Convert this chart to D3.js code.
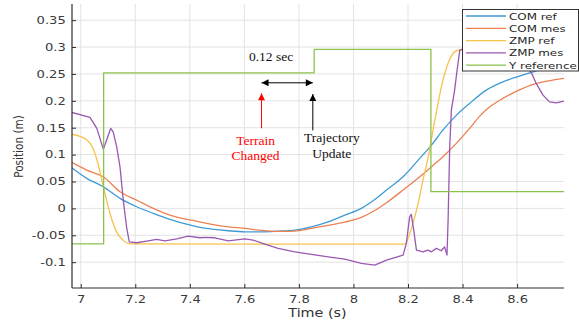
<!DOCTYPE html>
<html lang="en">
<head>
    <meta charset="UTF-8">
    <title>COM / ZMP tracking</title>
    <script src="https://cdnjs.cloudflare.com/ajax/libs/d3/7.8.5/d3.min.js"></script>
    <style>
        body { margin: 0; background: #fff; }
        svg { display: block; }
        .tick-label { font-family: 'DejaVu Sans', sans-serif; font-size: 10.5px; fill: #3a3a3a; }
        .axis-title { font-family: 'DejaVu Sans', sans-serif; fill: #333; }
        .legend-text { font-family: 'DejaVu Sans', sans-serif; font-size: 9.5px; fill: #262626; }
        .note { font-family: 'Liberation Serif', 'Times New Roman', serif; font-size: 13.5px; }
    </style>
</head>
<body>
<svg id="chart" width="579" height="321"></svg>
<script>
    // ticks
    const xTicks = [7, 7.2, 7.4, 7.6, 7.8, 8, 8.2, 8.4, 8.6];
    const xTickLabels = ["7", "7.2", "7.4", "7.6", "7.8", "8", "8.2", "8.4", "8.6"];
    const yTicks = [0.35, 0.3, 0.25, 0.2, 0.15, 0.1, 0.05, 0, -0.05, -0.1];
    const yTickLabels = ["0.35", "0.3", "0.25", "0.2", "0.15", "0.1", "0.05", "0", "-0.05", "-0.1"];

    // series, [time, value]
    const comRef = [
        [6.967, 0.0755], [7.022, 0.0558], [7.083, 0.0401], [7.144, 0.0186], [7.205, 0.003],
        [7.266, -0.0093], [7.327, -0.0204], [7.388, -0.0292], [7.437, -0.0353], [7.48, -0.0385],
        [7.541, -0.0416], [7.602, -0.0435], [7.663, -0.0435], [7.724, -0.0422], [7.785, -0.0403],
        [7.846, -0.0342], [7.907, -0.0249], [7.968, -0.0125], [8.029, 0], [8.078, 0.0164],
        [8.121, 0.034], [8.182, 0.0587], [8.243, 0.0929], [8.286, 0.1177], [8.328, 0.1455],
        [8.377, 0.1729], [8.426, 0.1952], [8.487, 0.2199], [8.548, 0.2353], [8.609, 0.2459],
        [8.652, 0.2528], [8.71, 0.262], [8.772, 0.27]
    ];
    const comMes = [
        [6.967, 0.0855], [7.022, 0.0712], [7.083, 0.0587], [7.144, 0.0309], [7.205, 0.0154],
        [7.266, 0], [7.327, -0.0125], [7.388, -0.0204], [7.419, -0.023], [7.48, -0.0297],
        [7.541, -0.0342], [7.602, -0.0372], [7.663, -0.0409], [7.724, -0.0428], [7.785, -0.0422],
        [7.846, -0.0372], [7.907, -0.0316], [7.968, -0.0255], [8.029, -0.0167], [8.078, -0.004],
        [8.121, 0.0105], [8.182, 0.034], [8.243, 0.0587], [8.286, 0.0774], [8.328, 0.0959],
        [8.377, 0.1208], [8.426, 0.1487], [8.463, 0.1716], [8.5, 0.1888], [8.548, 0.2045],
        [8.609, 0.2205], [8.67, 0.2323], [8.731, 0.2385], [8.772, 0.2416]
    ];
    const zmpRef = [
        [6.967, 0.138], [6.997, 0.134], [7.023, 0.127], [7.045, 0.112], [7.063, 0.084],
        [7.082, 0.043], [7.107, -0.009], [7.133, -0.045], [7.155, -0.059], [7.181, -0.066],
        [8.188, -0.0665], [8.2, -0.056], [8.218, -0.028], [8.237, 0.009], [8.255, 0.053],
        [8.273, 0.093], [8.292, 0.146], [8.31, 0.195], [8.328, 0.238], [8.347, 0.27],
        [8.365, 0.288], [8.383, 0.294], [8.426, 0.2955], [8.772, 0.2955]
    ];
    const zmpMes = [
        [6.967, 0.1784], [7.034, 0.1691], [7.059, 0.1487], [7.083, 0.1097], [7.095, 0.127],
        [7.110, 0.1487], [7.119, 0.1424], [7.132, 0.1145], [7.144, 0.0773], [7.156, 0.0154],
        [7.168, -0.0342], [7.178, -0.0621], [7.205, -0.0639], [7.242, -0.0608], [7.278, -0.0576],
        [7.309, -0.0602], [7.352, -0.0565], [7.394, -0.0515], [7.437, -0.0546], [7.455, -0.0539],
        [7.492, -0.0546], [7.541, -0.0602], [7.602, -0.0565], [7.632, -0.0589], [7.675, -0.0664],
        [7.724, -0.0743], [7.785, -0.0807], [7.846, -0.0855], [7.907, -0.09], [7.968, -0.0942],
        [8.029, -0.1022], [8.078, -0.1054], [8.121, -0.0961], [8.182, -0.0868], [8.194, -0.0651],
        [8.206, -0.0156], [8.212, -0.0112], [8.221, -0.0403], [8.231, -0.0775], [8.255, -0.0807],
        [8.273, -0.0775], [8.286, -0.0807], [8.304, -0.0743], [8.322, -0.0788], [8.334, -0.0714],
        [8.343, -0.0868], [8.347, -0.0217], [8.353, 0.1145], [8.359, 0.1827], [8.371, 0.2199],
        [8.38, 0.2571], [8.39, 0.2943], [8.42, 0.30], [8.5, 0.298], [8.6, 0.28],
        [8.652, 0.2528], [8.67, 0.2323], [8.695, 0.2106], [8.719, 0.1981], [8.744, 0.1963],
        [8.772, 0.1994]
    ];
    const yReference = [
        [6.967, -0.066], [7.084, -0.066], [7.084, 0.252], [7.856, 0.252], [7.856, 0.2955],
        [8.284, 0.2955], [8.284, 0.031], [8.772, 0.031]
    ];

    const seriesNames = ["COM ref", "COM mes", "ZMP ref", "ZMP mes", "Y reference"];
    const seriesData = [comRef, comMes, zmpRef, zmpMes, yReference];
    const seriesColors = ["#3f99d5", "#ec8152", "#f6c24a", "#9a58b2", "#8cc24e"];
    const seriesSmooth = [true, true, true, false, false];

    // annotations in data coordinates
    const terrainT = 7.663, updateT = 7.851;

    const svg = d3.select("#chart");
    const plotLeft = 72, plotRight = 564, plotTop = 4, plotBottom = 288;
    const stretch = 1.25; // the source figure is wider than tall, text included

    const x = d3.scaleLinear().domain([6.968, 8.772]).range([plotLeft, plotRight]);
    const y = d3.scaleLinear().domain([-0.148, 0.38]).range([plotBottom, plotTop]);

    const defs = svg.append("defs");
    defs.append("clipPath").attr("id", "plot-clip")
        .append("rect").attr("x", plotLeft).attr("y", plotTop)
        .attr("width", plotRight - plotLeft).attr("height", plotBottom - plotTop);

    // grid
    svg.append("g").selectAll("line").data(xTicks).join("line")
        .attr("x1", d => x(d)).attr("x2", d => x(d))
        .attr("y1", plotTop).attr("y2", plotBottom)
        .attr("stroke", "#e3e3e3").attr("stroke-width", 1);
    svg.append("g").selectAll("line").data(yTicks).join("line")
        .attr("x1", plotLeft).attr("x2", plotRight)
        .attr("y1", d => y(d)).attr("y2", d => y(d))
        .attr("stroke", "#e3e3e3").attr("stroke-width", 1);

    // curves
    const smoothLine = d3.line().x(d => x(d[0])).y(d => y(d[1])).curve(d3.curveMonotoneX);
    const rawLine = d3.line().x(d => x(d[0])).y(d => y(d[1]));
    svg.append("g").attr("clip-path", "url(#plot-clip)")
        .selectAll("path").data(seriesData).join("path")
        .attr("d", (d, i) => seriesSmooth[i] ? smoothLine(d) : rawLine(d))
        .attr("fill", "none")
        .attr("stroke", (d, i) => seriesColors[i])
        .attr("stroke-width", 1.3)
        .attr("stroke-linejoin", "round");

    // axes (ticks point inward, like matlab)
    const xAxis = d3.axisBottom(x).tickValues(xTicks)
        .tickFormat((d, i) => xTickLabels[i]).tickSizeInner(-4).tickSizeOuter(0).tickPadding(7.5);
    const yAxis = d3.axisLeft(y).tickValues(yTicks)
        .tickFormat((d, i) => yTickLabels[i]).tickSizeInner(-4).tickSizeOuter(0).tickPadding(5);

    const gx = svg.append("g").attr("transform", `translate(0,${plotBottom})`).call(xAxis);
    const gy = svg.append("g").attr("transform", `translate(${plotLeft},0)`).call(yAxis);
    [gx, gy].forEach(g => {
        g.attr("font-family", null).attr("font-size", null);
        g.select(".domain").attr("stroke", "#2e2e2e").attr("stroke-width", 1.2);
        g.selectAll(".tick line").attr("stroke", "#2e2e2e");
        g.selectAll(".tick text").attr("class", "tick-label").attr("fill", null)
            .attr("transform", `scale(${stretch},1)`);
    });
    gx.select(".domain").attr("d", `M${plotLeft},0H${plotRight}`);
    gy.select(".domain").attr("d", `M0,${plotTop}V${plotBottom}`);

    svg.append("text").attr("class", "axis-title").attr("font-size", "11.5px")
        .attr("transform", `translate(317.5,317) scale(${stretch},1)`)
        .attr("text-anchor", "middle").text("Time (s)");
    svg.append("text").attr("class", "axis-title").attr("font-size", "10.5px")
        .attr("transform", "translate(23,146.5) rotate(-90) scale(1,1.2)")
        .attr("text-anchor", "middle").text("Position (m)");

    // legend
    const legend = svg.append("g");
    legend.append("rect").attr("x", 462.5).attr("y", 9.5).attr("width", 116).attr("height", 61.5)
        .attr("fill", "#fff").attr("stroke", "#333").attr("stroke-width", 1);
    seriesNames.forEach((name, i) => {
        const ly = 16 + i * 12.3;
        legend.append("line").attr("x1", 466).attr("x2", 506).attr("y1", ly).attr("y2", ly)
            .attr("stroke", seriesColors[i]).attr("stroke-width", 1.3);
        legend.append("text").attr("class", "legend-text")
            .attr("transform", `translate(509,${ly + 3.5}) scale(${stretch},1)`).text(name);
    });

    // annotations
    [["head-black", "#000"], ["head-red", "#f00"]].forEach(([id, c]) => {
        defs.append("marker").attr("id", id)
            .attr("viewBox", "0 0 10 10").attr("refX", 10).attr("refY", 5)
            .attr("markerWidth", 8).attr("markerHeight", 7)
            .attr("markerUnits", "userSpaceOnUse").attr("orient", "auto-start-reverse")
            .append("path").attr("d", "M0,0L10,5L0,10Z").attr("fill", c);
    });

    const note = svg.append("g");
    note.append("line")
        .attr("x1", x(terrainT)).attr("x2", x(updateT))
        .attr("y1", y(0.2335)).attr("y2", y(0.2335))
        .attr("stroke", "#000").attr("stroke-width", 1)
        .attr("marker-start", "url(#head-black)").attr("marker-end", "url(#head-black)");
    note.append("text").attr("class", "note").attr("fill", "#111")
        .attr("x", x(terrainT) + 9.5).attr("y", y(0.274))
        .attr("text-anchor", "middle").text("0.12 sec");

    note.append("line")
        .attr("x1", x(terrainT)).attr("x2", x(terrainT))
        .attr("y1", y(0.149)).attr("y2", y(0.214))
        .attr("stroke", "#f00").attr("stroke-width", 1)
        .attr("marker-end", "url(#head-red)");
    note.append("line")
        .attr("x1", x(updateT)).attr("x2", x(updateT))
        .attr("y1", y(0.145)).attr("y2", y(0.2125))
        .attr("stroke", "#000").attr("stroke-width", 1)
        .attr("marker-end", "url(#head-black)");

    note.append("text").attr("class", "note").attr("fill", "#f00")
        .attr("text-anchor", "middle")
        .selectAll("tspan").data(["Terrain", "Changed"]).join("tspan")
        .attr("x", x(terrainT) - 6).attr("y", (d, i) => y(0.118) + i * 15.5).text(d => d);
    note.append("text").attr("class", "note").attr("fill", "#111")
        .attr("text-anchor", "middle")
        .selectAll("tspan").data(["Trajectory", "Update"]).join("tspan")
        .attr("x", x(updateT) + 19).attr("y", (d, i) => y(0.124) + i * 16.5).text(d => d);
</script>
</body>
</html>
